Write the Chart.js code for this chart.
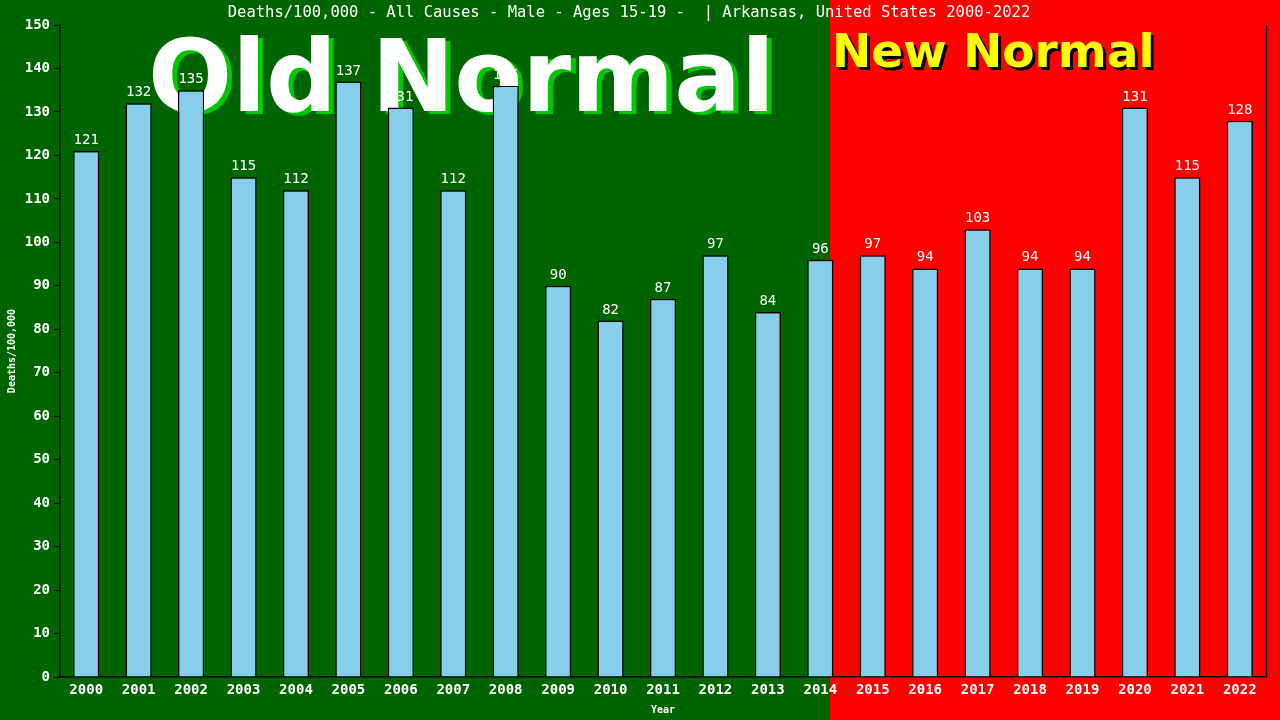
<!DOCTYPE html>
<html>
<head>
<meta charset="utf-8">
<script src="https://cdn.jsdelivr.net/npm/chart.js@4.4.1/dist/chart.umd.min.js"></script>
<style>
  html, body { margin: 0; padding: 0; background: #006400; }
  #wrap { width: 1280px; height: 720px; }
</style>
</head>
<body>
<div id="wrap"><canvas id="deathsChart" width="1280" height="720"></canvas></div>
<script>
// chart data
const years = ['2000','2001','2002','2003','2004','2005','2006','2007','2008','2009','2010','2011',
               '2012','2013','2014','2015','2016','2017','2018','2019','2020','2021','2022'];
const deathRates = [121,132,135,115,112,137,131,112,136,90,82,87,97,84,96,97,94,103,94,94,131,115,128];
const chartTitle = 'Deaths/100,000 - All Causes - Male - Ages 15-19 -  | Arkansas, United States 2000-2022';

const MONO = '"DejaVu Sans Mono", "Liberation Mono", monospace';

// background halves + big captions, drawn under the bars
const backdrop = {
    id: 'backdrop',
    beforeDraw(chart) {
        const ctx = chart.ctx;
        const split = 830;
        ctx.save();
        ctx.fillStyle = '#006400';
        ctx.fillRect(0, 0, split, chart.height);
        ctx.fillStyle = '#ff0000';
        ctx.fillRect(split, 0, chart.width - split, chart.height);

        ctx.font = 'bold 99px "DejaVu Sans", sans-serif';
        ctx.textBaseline = 'alphabetic';
        ctx.textAlign = 'left';
        ctx.fillStyle = '#00c800';
        ctx.fillText('Old Normal', 153, 114);
        ctx.fillStyle = '#ffffff';
        ctx.fillText('Old Normal', 148, 111);

        ctx.font = 'bold 47px "DejaVu Sans", sans-serif';
        ctx.fillStyle = '#000000';
        ctx.fillText('New Normal', 835, 70);
        ctx.fillStyle = '#ffff00';
        ctx.fillText('New Normal', 832, 67);

        ctx.font = '15.5px ' + MONO;
        ctx.fillStyle = '#ffffff';
        ctx.textAlign = 'center';
        ctx.textBaseline = 'middle';
        ctx.fillText(chartTitle, 629, 13);
        ctx.restore();
    },
    afterDatasetsDraw(chart) {
        const ctx = chart.ctx;
        const meta = chart.getDatasetMeta(0);
        const area = chart.chartArea;
        ctx.save();
        ctx.font = '14px ' + MONO;
        ctx.fillStyle = '#ffffff';
        ctx.textAlign = 'center';
        ctx.textBaseline = 'alphabetic';
        meta.data.forEach((bar, i) => {
            ctx.fillText(String(deathRates[i]), bar.x, bar.y - 7);
        });
        // right frame line
        ctx.strokeStyle = '#000000';
        ctx.lineWidth = 1.5;
        ctx.beginPath();
        ctx.moveTo(area.right + 0.5, area.top);
        ctx.lineTo(area.right + 0.5, area.bottom);
        ctx.stroke();
        ctx.restore();
    }
};

const ctx = document.getElementById('deathsChart').getContext('2d');
new Chart(ctx, {
    type: 'bar',
    data: {
        labels: years,
        datasets: [{
            label: 'Deaths/100,000',
            data: deathRates,
            backgroundColor: '#87ceeb',
            borderColor: '#000000',
            borderWidth: 1.5,
            borderSkipped: 'bottom',
            barPercentage: 0.5,
            categoryPercentage: 1.0
        }]
    },
    options: {
        responsive: false,
        animation: false,
        layout: { padding: { top: 25, right: 14, left: 0, bottom: 0 } },
        plugins: {
            legend: { display: false },
            title: { display: false },
            tooltip: { enabled: false }
        },
        scales: {
            x: {
                afterFit(scale) { scale.height = 43; },
                grid: { display: false, drawTicks: false },
                border: { display: true, color: '#000000', width: 1.5 },
                ticks: {
                    color: '#ffffff',
                    font: { family: MONO, size: 14, weight: 'bold' },
                    padding: 5,
                    maxRotation: 0
                },
                title: {
                    display: true,
                    text: 'Year',
                    color: '#ffffff',
                    font: { family: MONO, size: 10, weight: 'bold' },
                    padding: { top: 0, bottom: 4 }
                }
            },
            y: {
                min: 0,
                max: 150,
                afterFit(scale) { scale.width = 60; },
                grid: {
                    drawOnChartArea: false,
                    drawTicks: true,
                    tickLength: 6,
                    color: '#000000'
                },
                border: { display: true, color: '#000000', width: 1.5 },
                ticks: {
                    stepSize: 10,
                    color: '#ffffff',
                    font: { family: MONO, size: 14, weight: 'bold' },
                    padding: 4
                },
                title: {
                    display: true,
                    text: 'Deaths/100,000',
                    color: '#ffffff',
                    font: { family: MONO, size: 10, weight: 'bold' },
                    padding: { top: 6, bottom: 0 }
                }
            }
        }
    },
    plugins: [backdrop]
});
</script>
</body>
</html>
